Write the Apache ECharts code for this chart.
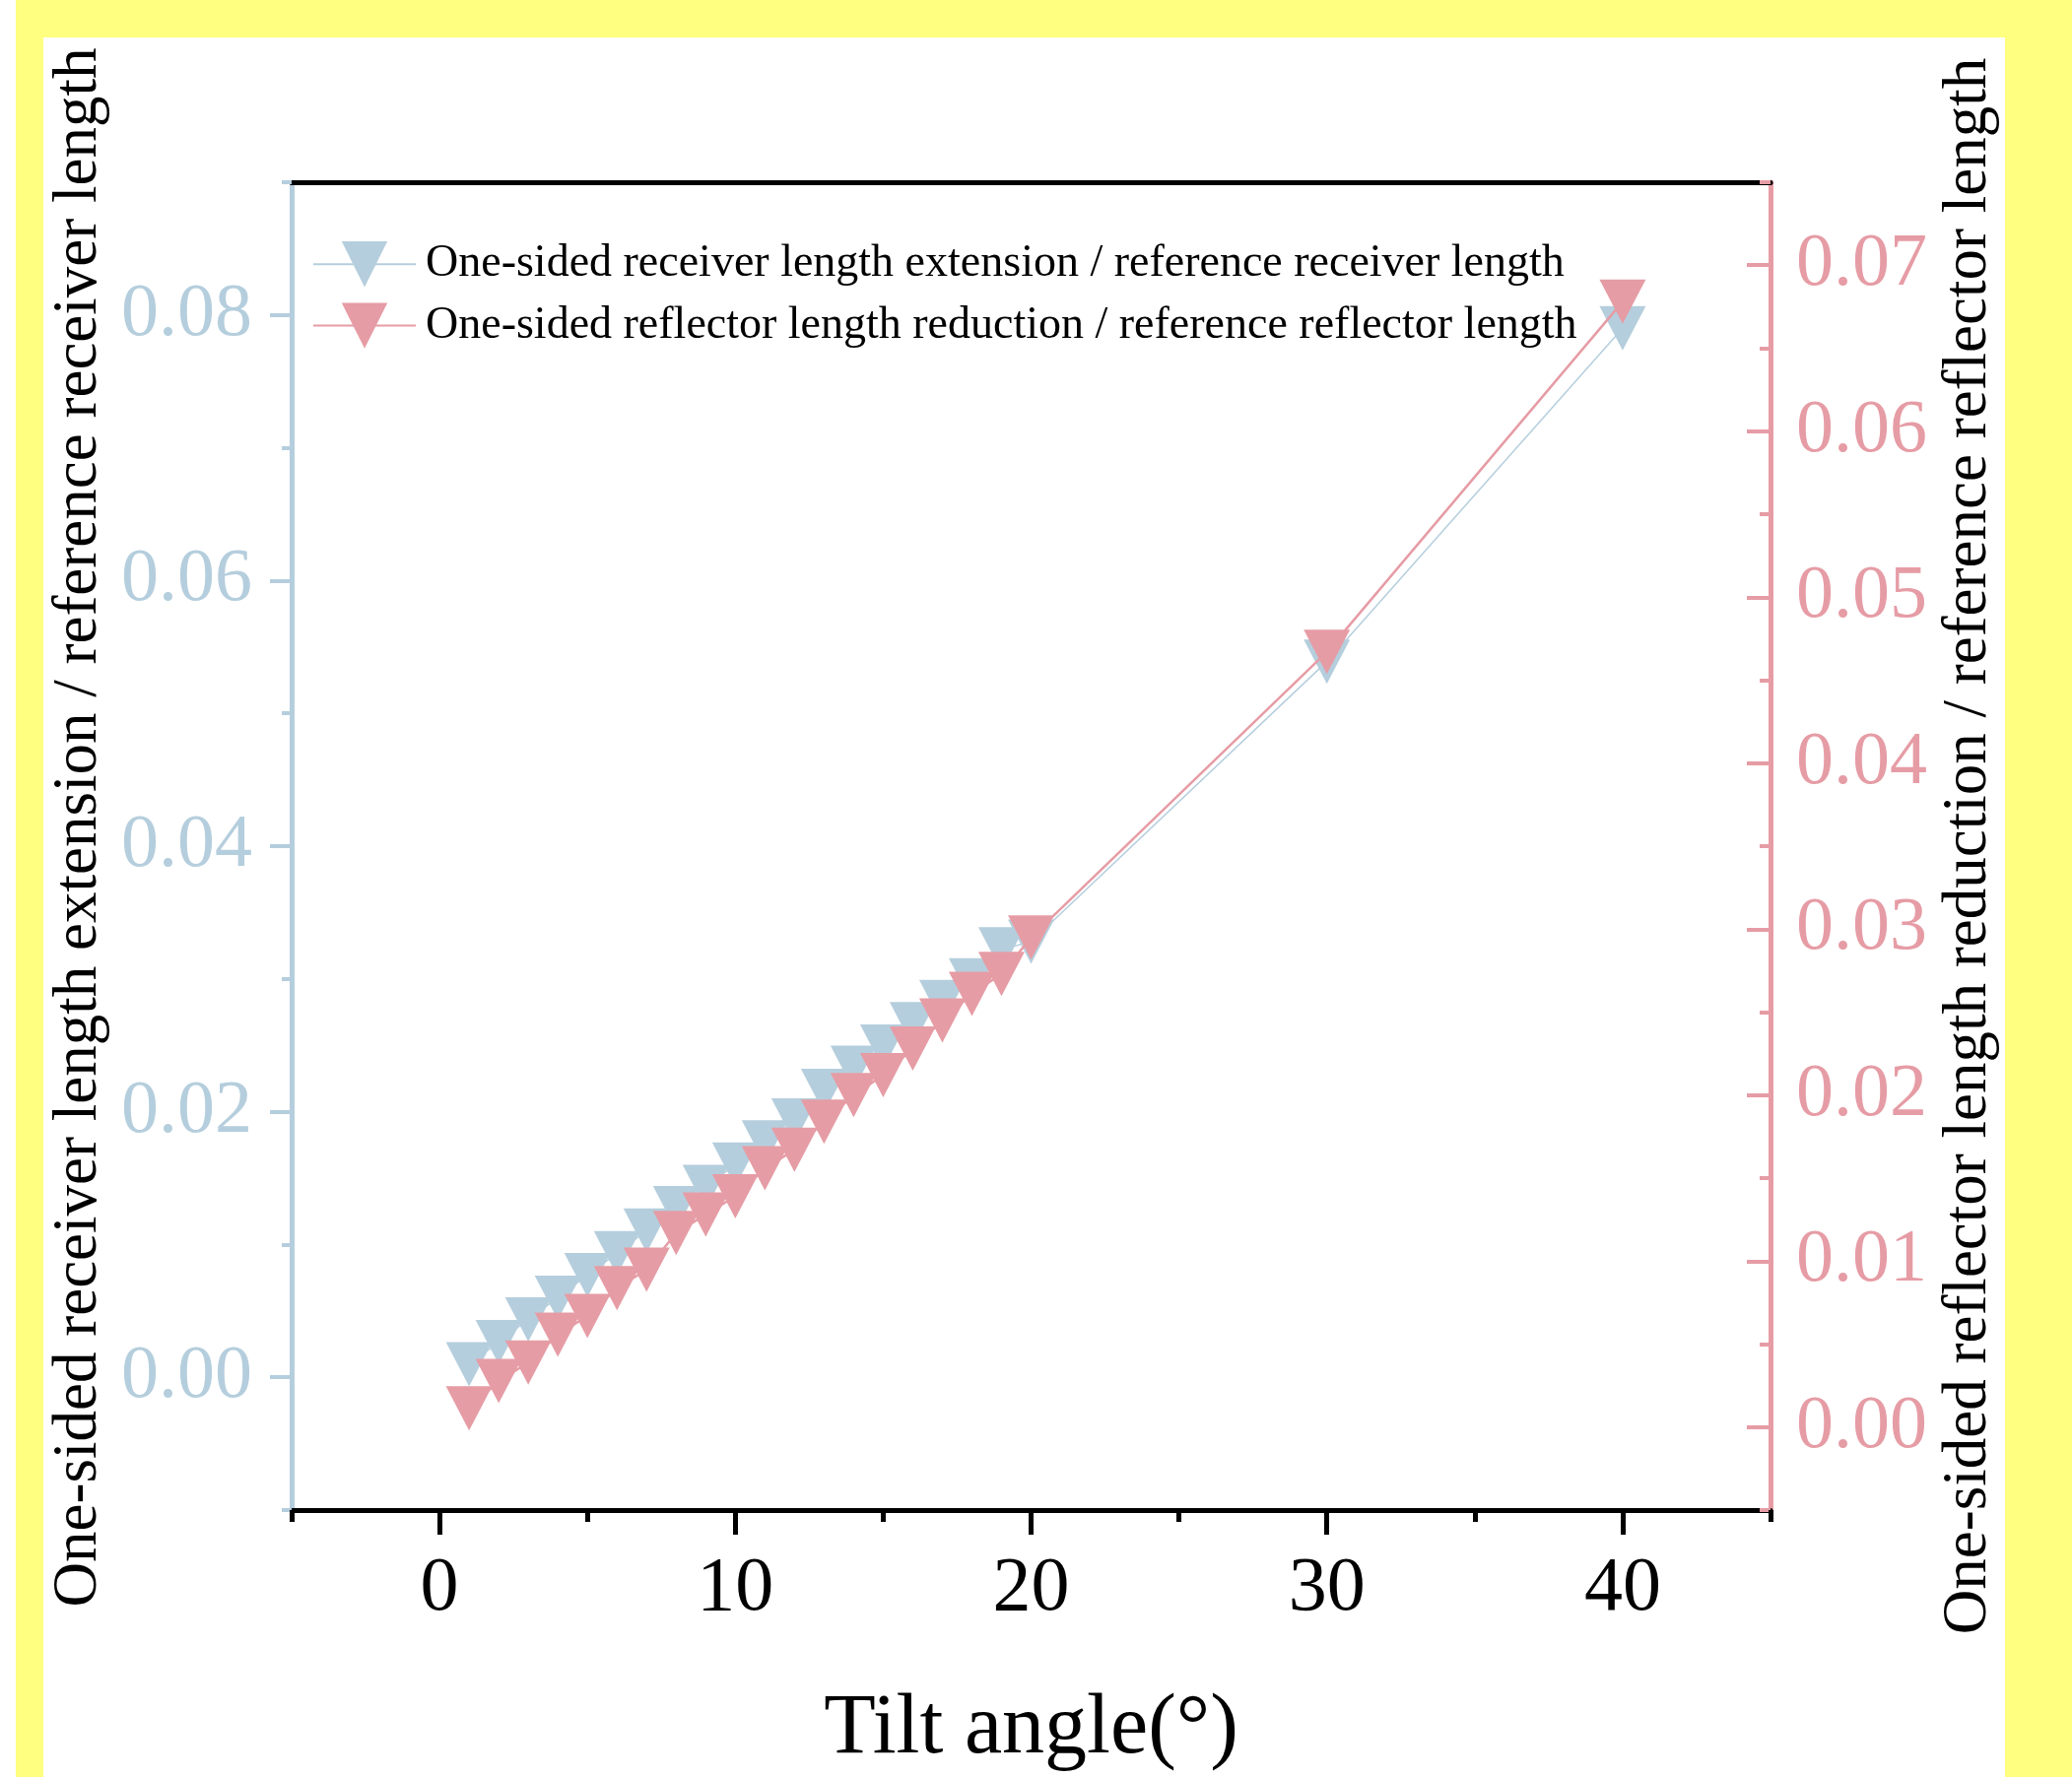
<!DOCTYPE html>
<html>
<head>
<meta charset="utf-8">
<script src="https://cdn.jsdelivr.net/npm/echarts@6/dist/echarts.min.js"></script>
<style>
html,body{margin:0;padding:0;background:#ffffff;}
#chart{width:2103px;height:1804px;}
</style>
</head>
<body>
<div id="chart"></div>
<script>
// ---- data ----
const tiltAngles = [1,2,3,4,5,6,7,8,9,10,11,12,13,14,15,16,17,18,19,20,30,40];
const receiverRatio = [0.00097,0.00265,0.00436,0.00599,0.0077,0.00934,0.01105,0.01273,0.01434,0.01602,0.01769,0.01934,0.02157,0.0233,0.02491,0.0266,0.02826,0.02989,0.03222,0.0328,0.0539,0.0790];
const reflectorRatio = [0.00113,0.00277,0.00389,0.00557,0.00669,0.00837,0.00948,0.01169,0.01281,0.0139,0.0156,0.0167,0.0184,0.0200,0.0212,0.0228,0.0245,0.0261,0.0273,0.0295,0.0467,0.0678];
const xMajorTicks = [0,10,20,30,40];
const xMinorTicks = [-5,5,15,25,35,45];
const leftMajorTicks = [0,0.02,0.04,0.06,0.08];
const leftMinorTicks = [-0.01,0.01,0.03,0.05,0.07,0.09];
const rightMajorTicks = [0,0.01,0.02,0.03,0.04,0.05,0.06,0.07];
const rightMinorTicks = [-0.005,0.005,0.015,0.025,0.035,0.045,0.055,0.065,0.075];
const seriesNames = [
  'One-sided receiver length extension / reference receiver length',
  'One-sided reflector length reduction / reference reflector length'
];
const xTitle = 'Tilt angle(°)';

const BLUE = '#b5cedd';
const PINK = '#e69ca5';
const FONT = '"Liberation Serif", "Times New Roman", serif';

const chart = echarts.init(document.getElementById('chart'), null, {renderer: 'canvas'});

const pairs = (xs, ys) => xs.map((x, i) => [x, ys[i]]);

const xBase = {type: 'value', min: -5, max: 45, gridIndex: 0, splitLine: {show: false}};
const yLeftBase = {type: 'value', min: -0.01, max: 0.09, position: 'left', splitLine: {show: false}};
const yRightBase = {type: 'value', min: -0.005, max: 0.075, position: 'right', splitLine: {show: false}};

const option = {
  animation: false,
  backgroundColor: '#ffff80',
  graphic: [
    {type: 'rect', z: -10, silent: true, shape: {x: 0, y: 0, width: 16, height: 1804}, style: {fill: '#ffffff'}},
    {type: 'rect', z: -10, silent: true, shape: {x: 44, y: 38, width: 1991, height: 1766}, style: {fill: '#ffffff'}}
  ],
  grid: {left: 296, right: 306, top: 185, bottom: 268, containLabel: false},
  legend: {
    data: seriesNames,
    orient: 'vertical',
    left: 317, top: 245,
    padding: 0,
    itemWidth: 104, itemHeight: 58, itemGap: 16,
    textStyle: {fontFamily: FONT, fontSize: 46, color: '#000', padding: [0,0,0,5]}
  },
  xAxis: [
    Object.assign({}, xBase, {
      position: 'bottom',
      axisLine: {show: true, onZero: false, lineStyle: {color: '#000', width: 5}},
      axisTick: {show: true, inside: false, length: 25, customValues: xMajorTicks, lineStyle: {color: '#000', width: 5}},
      axisLabel: {show: true, customValues: xMajorTicks, margin: 42, fontFamily: FONT, fontSize: 78, color: '#000'},
      name: xTitle, nameLocation: 'middle', nameGap: 180,
      nameTextStyle: {fontFamily: FONT, fontSize: 86, color: '#000'}
    }),
    Object.assign({}, xBase, {
      position: 'bottom',
      axisLine: {show: false, onZero: false},
      axisTick: {show: true, inside: false, length: 12, customValues: xMinorTicks, lineStyle: {color: '#000', width: 5}},
      axisLabel: {show: false}
    }),
    Object.assign({}, xBase, {
      position: 'top',
      axisLine: {show: true, onZero: false, lineStyle: {color: '#000', width: 5}},
      axisTick: {show: false},
      axisLabel: {show: false}
    })
  ],
  yAxis: [
    Object.assign({}, yLeftBase, {
      axisLine: {show: true, onZero: false, lineStyle: {color: BLUE, width: 5}},
      axisTick: {show: true, inside: false, length: 22, customValues: leftMajorTicks, lineStyle: {color: BLUE, width: 4}},
      axisLabel: {show: true, customValues: leftMajorTicks, margin: 40, fontFamily: FONT, fontSize: 76, color: BLUE,
        formatter: v => v.toFixed(2)},
      name: seriesNames[0], nameLocation: 'middle', nameRotate: 90, nameGap: 177,
      nameTextStyle: {fontFamily: FONT, fontSize: 63, color: '#000', padding: [0,0,0,38]}
    }),
    Object.assign({}, yLeftBase, {
      axisLine: {show: false, onZero: false},
      axisTick: {show: true, inside: false, length: 10, customValues: leftMinorTicks, lineStyle: {color: BLUE, width: 4}},
      axisLabel: {show: false}
    }),
    Object.assign({}, yRightBase, {
      axisLine: {show: true, onZero: false, lineStyle: {color: PINK, width: 5}},
      axisTick: {show: true, inside: true, length: 24, customValues: rightMajorTicks, lineStyle: {color: PINK, width: 4}},
      axisLabel: {show: true, customValues: rightMajorTicks, margin: 26, fontFamily: FONT, fontSize: 76, color: PINK,
        formatter: v => v.toFixed(2)},
      name: seriesNames[1], nameLocation: 'middle', nameRotate: 90, nameGap: 170,
      nameTextStyle: {fontFamily: FONT, fontSize: 63, color: '#000'}
    }),
    Object.assign({}, yRightBase, {
      axisLine: {show: false, onZero: false},
      axisTick: {show: true, inside: true, length: 11, customValues: rightMinorTicks, lineStyle: {color: PINK, width: 4}},
      axisLabel: {show: false}
    })
  ],
  series: [
    {
      name: seriesNames[0], type: 'line', xAxisIndex: 0, yAxisIndex: 0,
      data: pairs(tiltAngles, receiverRatio),
      symbol: 'triangle', symbolRotate: 180, symbolSize: [47, 45],
      itemStyle: {color: BLUE},
      lineStyle: {color: BLUE, width: 1.5},
      z: 3
    },
    {
      name: seriesNames[1], type: 'line', xAxisIndex: 0, yAxisIndex: 2,
      data: pairs(tiltAngles, reflectorRatio),
      symbol: 'triangle', symbolRotate: 180, symbolSize: [47, 45],
      itemStyle: {color: PINK},
      lineStyle: {color: PINK, width: 2.5},
      z: 4
    }
  ]
};
chart.setOption(option);
</script>
</body>
</html>
